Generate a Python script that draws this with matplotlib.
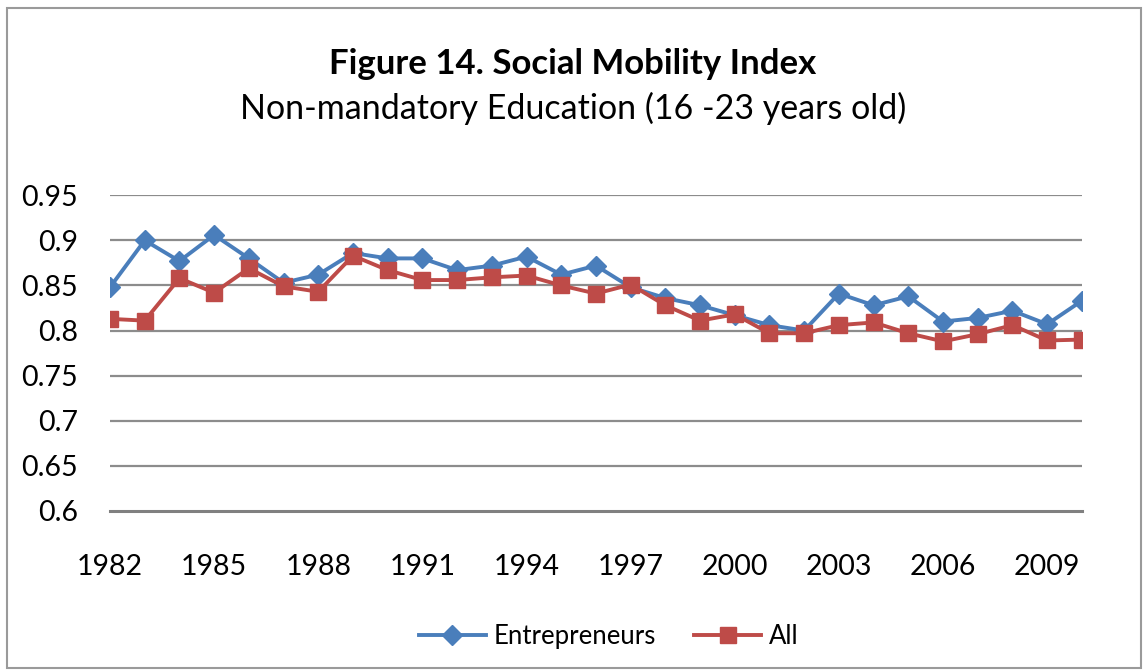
import matplotlib.pyplot as plt
from matplotlib.patches import Rectangle

plt.rcParams["font.family"] = ["Lato", "DejaVu Sans"]

years = list(range(1982, 2011))
entrepreneurs = [0.848, 0.900, 0.877, 0.906, 0.880, 0.853, 0.862, 0.886, 0.880, 0.880,
                 0.867, 0.872, 0.882, 0.862, 0.872, 0.848, 0.836, 0.828, 0.817, 0.806,
                 0.800, 0.841, 0.828, 0.838, 0.810, 0.814, 0.822, 0.807, 0.833]
all_people = [0.813, 0.811, 0.858, 0.842, 0.869, 0.849, 0.843, 0.883, 0.867, 0.856,
              0.856, 0.859, 0.861, 0.850, 0.841, 0.851, 0.828, 0.811, 0.818, 0.797,
              0.797, 0.806, 0.809, 0.797, 0.788, 0.796, 0.806, 0.789, 0.790]
yticks = [0.6, 0.65, 0.7, 0.75, 0.8, 0.85, 0.9, 0.95]
ytick_labels = ["0.6", "0.65", "0.7", "0.75", "0.8", "0.85", "0.9", "0.95"]
xticks = list(range(1982, 2011, 3))

BLUE = "#4A7EBB"
RED = "#BE4B48"
GRID = "#8c8c8c"

fig = plt.figure(figsize=(11.46, 6.71), dpi=100, facecolor="white")
fig.patches.append(Rectangle((0.006, 0.004), 0.99, 0.984, transform=fig.transFigure,
                             fill=False, edgecolor="#9a9a9a", linewidth=1.5))

ax = fig.add_axes([0.096, 0.2385, 0.848, 0.4705])
ax.plot(years, entrepreneurs, color=BLUE, lw=2.8, marker="D", ms=10, label="Entrepreneurs", zorder=3)
ax.plot(years, all_people, color=RED, lw=2.8, marker="s", ms=11.5, label="All", zorder=4)

ax.set_xlim(1982, 2010)
ax.set_ylim(0.6, 0.95)
ax.set_yticks(yticks)
ax.set_yticklabels(ytick_labels)
ax.set_xticks(xticks)
ax.tick_params(axis="both", length=0, labelsize=20.5, colors="black")
ax.tick_params(axis="x", pad=31)
ax.tick_params(axis="y", pad=23)

for y in yticks[1:]:
    ax.axhline(y, color=GRID, lw=1.6, zorder=1)
for s in ["top", "right", "left"]:
    ax.spines[s].set_visible(False)
ax.spines["bottom"].set_color("#808080")
ax.spines["bottom"].set_linewidth(2.2)

fig.text(0.5, 0.905, "Figure 14. Social Mobility Index", ha="center", va="center",
         fontsize=25, fontweight="bold")
fig.text(0.5, 0.838, "Non-mandatory Education (16 -23 years old)", ha="center", va="center",
         fontsize=24.5)

fig.legend(loc="center", bbox_to_anchor=(0.531, 0.052), ncol=2, frameon=False,
           fontsize=18.5, handlelength=2.6, columnspacing=1.5, handletextpad=0.3)

fig.savefig("out.png", dpi=100, facecolor="white")
plt.close(fig)
